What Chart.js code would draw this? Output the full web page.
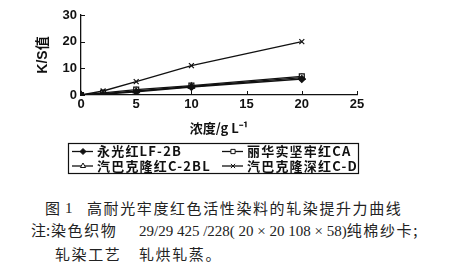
<!DOCTYPE html>
<html>
<head>
<meta charset="utf-8">
<script src="https://cdn.jsdelivr.net/npm/chart.js@4.4.1/dist/chart.umd.min.js"></script>
<style>
  html, body { margin: 0; padding: 0; background: #fff; }
  #wrap { position: relative; width: 459px; height: 272px; overflow: hidden; }
  #c { position: absolute; left: 0; top: 0; }
  .cap { position: absolute; white-space: nowrap; color: #222;
         font-family: "Noto Sans CJK SC", "Liberation Serif", serif; font-size: 15px; line-height: 18px;
         letter-spacing: 1.6px; }
  .num { font-family: "Liberation Serif", serif; font-size: 15px; letter-spacing: 0; }
</style>
</head>
<body>
<div id="wrap">
  <canvas id="c" width="459" height="180"></canvas>
  <div class="cap" style="left:45px; top:199px;">图</div>
  <div class="cap num" style="left:65px; top:199px;">1</div>
  <div class="cap" style="left:87px; top:199px;">高耐光牢度红色活性染料的轧染提升力曲线</div>
  <div class="cap" style="left:31px; top:221px; letter-spacing:0;">注:</div>
  <div class="cap" style="left:51px; top:221px;">染色织物</div>
  <div class="cap" style="left:139px; top:221px;"><span class="num">29/29 425 /228( 20 × 20 108 × 58)</span>纯棉纱卡;</div>
  <div class="cap" style="left:55px; top:245px;">轧染工艺</div>
  <div class="cap" style="left:139px; top:245px;">轧烘轧蒸。</div>
</div>
<script>
'use strict';

// concentration g/L
var concentration = [0, 2, 5, 10, 20];

// K/S values per dye
var yongguangLF2B = [0, 0.3, 1.2, 3.0, 6.0];
var lihuaCA = [0, 0.8, 2.0, 3.5, 7.0];
var cibacronC2BL = [0, 0.5, 1.5, 3.2, 6.5];
var cibacronCD = [0, 1.5, 5.0, 11.0, 20.0];

var seriesNames = ['永光红LF-2B', '丽华实坚牢红CA', '汽巴克隆红C-2BL', '汽巴克隆深红C-D'];
var xTicks = [0, 5, 10, 15, 20, 25];
var yTicks = [0, 10, 20, 30];

function pts(vals) {
  return concentration.map(function (x, i) { return { x: x, y: vals[i] }; });
}

var ink = '#111';
var tickFont = { family: 'Liberation Sans, Arial, sans-serif', size: 13, weight: 'bold' };

// inward tick marks + boxed legend
var decorPlugin = {
  id: 'decor',
  afterDraw: function (chart) {
    var ctx = chart.ctx,
      xs = chart.scales.x,
      ys = chart.scales.y;
    ctx.save();
    ctx.strokeStyle = ink;
    ctx.lineWidth = 1;
    xTicks.forEach(function (v) {
      var px = Math.round(xs.getPixelForValue(v)) + 0.5;
      ctx.beginPath();
      ctx.moveTo(px, ys.bottom);
      ctx.lineTo(px, ys.bottom - 4);
      ctx.stroke();
    });
    yTicks.forEach(function (v) {
      var py = Math.round(ys.getPixelForValue(v)) + 0.5;
      ctx.beginPath();
      ctx.moveTo(xs.left, py);
      ctx.lineTo(xs.left + 4, py);
      ctx.stroke();
    });

    // legend
    var box = { l: 68.5, t: 143.5, r: 358.5, b: 173.5 };
    ctx.lineWidth = 1.2;
    ctx.strokeRect(box.l, box.t, box.r - box.l, box.b - box.t);
    var cols = [72, 222], rows = [151.5, 166];
    chart.data.datasets.forEach(function (ds, i) {
      var x0 = cols[i % 2], y0 = rows[Math.floor(i / 2)];
      ctx.strokeStyle = ink;
      ctx.lineWidth = 1.3;
      ctx.beginPath();
      ctx.moveTo(x0, y0);
      ctx.lineTo(x0 + 21, y0);
      ctx.stroke();
      ctx.fillStyle = ds.pointBackgroundColor;
      ctx.strokeStyle = ink;
      ctx.lineWidth = 1;
      Chart.helpers.drawPoint(ctx, { pointStyle: ds.pointStyle, radius: 3, borderWidth: 1, rotation: 0 }, x0 + 11, y0);
      ctx.fillStyle = ink;
      ctx.font = 'bold 13px "Noto Sans CJK SC", sans-serif';
      ctx.letterSpacing = '1.2px';
      ctx.textBaseline = 'middle';
      ctx.textAlign = 'left';
      ctx.fillText(ds.label, x0 + 25, y0);
      ctx.letterSpacing = '0px';
    });
    ctx.restore();
  }
};

function series(label, vals, style, fill) {
  return {
    label: label,
    data: pts(vals),
    borderColor: ink,
    borderWidth: 1.4,
    pointStyle: style,
    pointRadius: 3.5,
    pointBorderWidth: 1.2,
    pointBorderColor: ink,
    pointBackgroundColor: fill,
    tension: 0
  };
}

new Chart(document.getElementById('c'), {
  type: 'line',
  data: {
    datasets: [
      series(seriesNames[0], yongguangLF2B, 'rectRot', ink),
      series(seriesNames[1], lihuaCA, 'rect', '#fff'),
      series(seriesNames[2], cibacronC2BL, 'triangle', '#fff'),
      series(seriesNames[3], cibacronCD, 'crossRot', ink)
    ]
  },
  options: {
    responsive: false,
    animation: false,
    layout: { padding: { left: 0, top: 15, right: 102, bottom: 44 } },
    plugins: { legend: { display: false }, tooltip: { enabled: false } },
    scales: {
      x: {
        type: 'linear',
        min: 0,
        max: 25,
        afterFit: function (s) { s.height = 41; },
        afterBuildTicks: function (s) { s.ticks = xTicks.map(function (v) { return { value: v }; }); },
        grid: { display: false, drawTicks: false },
        border: { display: true, color: ink, width: 1.3 },
        ticks: { color: ink, font: tickFont, padding: 2 },
        title: {
          display: true,
          text: '浓度/g L⁻¹',
          color: ink,
          font: { family: 'Noto Sans CJK SC, sans-serif', size: 13, weight: 'bold' },
          padding: 0
        }
      },
      y: {
        min: 0,
        max: 30,
        afterFit: function (s) { s.width = 81; },
        afterBuildTicks: function (s) { s.ticks = yTicks.map(function (v) { return { value: v }; }); },
        grid: { display: false, drawTicks: false },
        border: { display: true, color: ink, width: 1.3 },
        ticks: { color: ink, font: tickFont, padding: 4 },
        title: {
          display: true,
          text: 'K/S值',
          color: ink,
          font: { family: 'Liberation Sans, Noto Sans CJK SC, sans-serif', size: 14, weight: 'bold' },
          padding: { top: 35, bottom: 0, left: 0, right: 0 }
        }
      }
    }
  },
  plugins: [decorPlugin]
});
</script>
</body>
</html>
